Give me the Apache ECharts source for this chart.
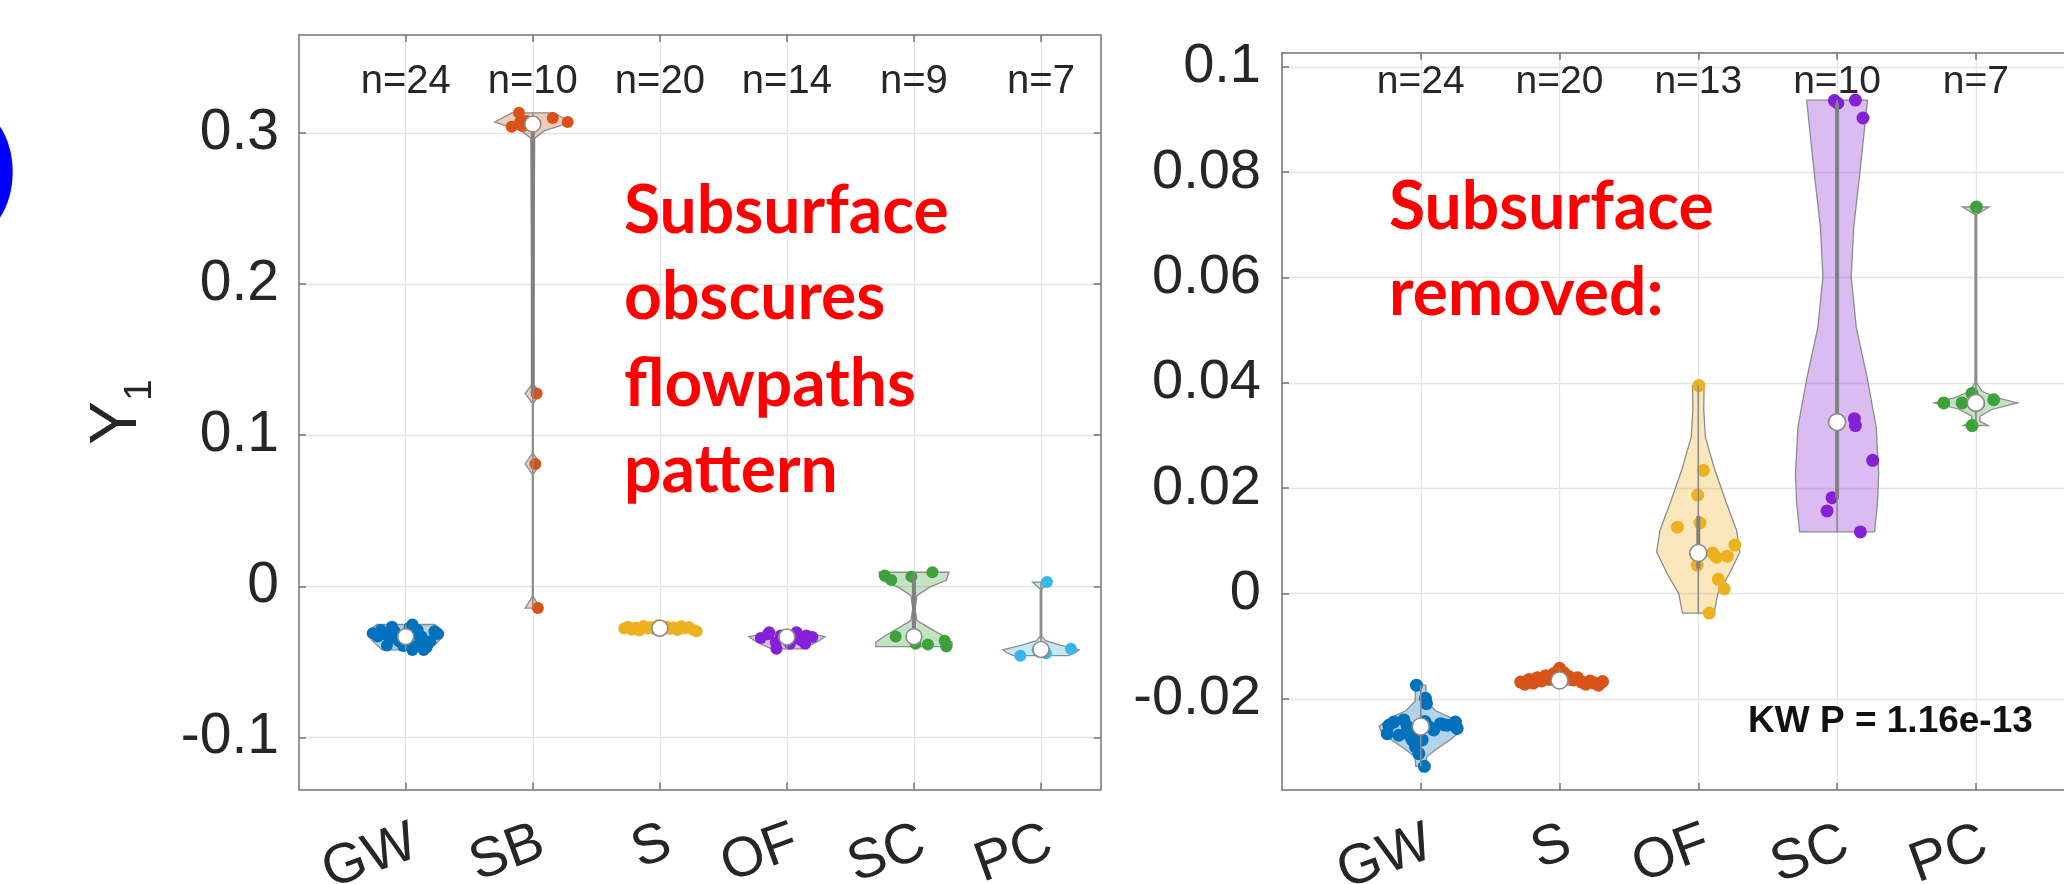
<!DOCTYPE html>
<html><head><meta charset="utf-8">
<script src="https://cdn.jsdelivr.net/npm/echarts@6/dist/echarts.min.js"></script>
<style>html,body{margin:0;padding:0;background:#fff}#c{width:2064px;height:884px}</style>
</head><body><div id="c"></div>
<script>
// ---------- DATA ----------
const leftCategories = ['GW','SB','S','OF','SC','PC'];
const leftCounts = [24,10,20,14,9,7];
const leftYTicks = [-0.1,0,0.1,0.2,0.3];
const rightCategories = ['GW','S','OF','SC','PC'];
const rightCounts = [24,20,13,10,7];
const rightYTicks = [-0.02,0,0.02,0.04,0.06,0.08,0.1];

// scatter points: [horizontal jitter (category units), value]
const leftGW = [[-0.196,-0.0289],[-0.108,-0.0267],[-0.22,-0.0333],[-0.148,-0.0392],[-0.055,-0.0364],[0.053,-0.0253],[0.085,-0.0315],[0.125,-0.0333],[0.165,-0.0404],[0.226,-0.0298],[0.254,-0.0315],[0.053,-0.0421],[0.142,-0.0421],[-0.087,-0.0298],[0.021,-0.0364],[-0.168,-0.0315],[-0.035,-0.0333],[0.194,-0.0364],[0.094,-0.0289],[-0.128,-0.0348],[-0.26,-0.031],[0.11,-0.0378],[-0.02,-0.0395],[0.03,-0.0275]];
const leftSB = [[-0.109,0.3134],[-0.10,0.3073],[-0.166,0.3041],[-0.08,0.3046],[0.157,0.3099],[0.275,0.3073],[-0.05,0.308],[0.03,0.1276],[0.02,0.081],[0.04,-0.0144]];
const leftS = [[-0.28,-0.0280],[-0.25,-0.0268],[-0.22,-0.0288],[-0.19,-0.0275],[-0.16,-0.0292],[-0.13,-0.0262],[-0.10,-0.0279],[-0.07,-0.0270],[-0.04,-0.0285],[-0.01,-0.0256],[0.02,-0.0277],[0.05,-0.0266],[0.08,-0.0283],[0.11,-0.0273],[0.14,-0.0290],[0.17,-0.0264],[0.20,-0.0278],[0.23,-0.0271],[0.26,-0.0287],[0.29,-0.0298]];
const leftOF = [[-0.139,-0.0304],[-0.205,-0.0342],[-0.047,-0.0326],[0.076,-0.0304],[0.154,-0.0326],[0.11,-0.0355],[-0.087,-0.0371],[-0.082,-0.0414],[0.024,-0.0381],[0.144,-0.0381],[0.09,-0.0336],[-0.15,-0.0318],[0.2,-0.0335],[-0.02,-0.0330]];
const leftSC = [[-0.23,0.0071],[-0.178,0.0042],[-0.02,0.0064],[0.145,0.0093],[-0.144,-0.0333],[0.013,-0.0381],[0.11,-0.0386],[0.242,-0.036],[0.255,-0.0399]];
const leftPC = [[0.047,0.0028],[-0.163,-0.0459],[-0.027,-0.0421],[0.039,-0.0443],[0.236,-0.0414],[0.0,-0.0412],[0.02,-0.0418]];

const rightGW = [[-0.031,-0.0174],[0.034,-0.0199],[0.041,-0.0209],[0.026,-0.0328],[-0.23,-0.025],[-0.194,-0.0244],[-0.122,-0.024],[-0.098,-0.0252],[-0.062,-0.0278],[-0.038,-0.0291],[-0.014,-0.0304],[0.01,-0.0278],[0.094,-0.0259],[0.142,-0.0247],[0.19,-0.025],[0.25,-0.0244],[0.262,-0.0256],[-0.242,-0.0266],[-0.158,-0.0269],[-0.074,-0.0272],[0.058,-0.0253],[0.166,-0.0249],[0.03,-0.0243],[-0.05,-0.0262]];
const rightS = [[-0.28,-0.0168],[-0.25,-0.0172],[-0.22,-0.0163],[-0.19,-0.0170],[-0.16,-0.0160],[-0.13,-0.0166],[-0.10,-0.0156],[-0.07,-0.0162],[-0.04,-0.0152],[0.0,-0.0142],[0.03,-0.0150],[0.07,-0.0158],[0.10,-0.0164],[0.13,-0.0160],[0.16,-0.0168],[0.19,-0.0172],[0.22,-0.0166],[0.25,-0.0170],[0.28,-0.0174],[0.31,-0.0167]];
const rightOF = [[0.005,0.0395],[0.036,0.0234],[-0.004,0.0187],[0.012,0.0134],[-0.151,0.0126],[-0.007,0.0054],[0.104,0.0077],[0.132,0.0069],[0.209,0.0071],[0.264,0.0092],[0.144,0.0027],[0.187,0.0009],[0.079,-0.0037]];
const rightSC = [[-0.019,0.0936],[0.005,0.0931],[0.132,0.0937],[0.187,0.0903],[0.125,0.0332],[0.132,0.0319],[0.257,0.0253],[-0.036,0.0182],[-0.072,0.0157],[0.168,0.0117]];
const rightPC = [[0.004,0.0734],[-0.231,0.0362],[-0.099,0.0362],[-0.027,0.038],[0.129,0.0368],[-0.027,0.0319],[0.02,0.036]];

// violin outlines: [value, relative half-width]
const leftGWShape = [[-0.0421,0.62],[-0.039,0.75],[-0.036,0.88],[-0.033,0.97],[-0.0307,1.0],[-0.028,0.9],[-0.0253,0.76]];
const leftSBShape = [[-0.0144,0.2],[-0.0105,0.1],[-0.0067,0.01],[0.074,0.01],[0.081,0.2],[0.088,0.01],[0.121,0.01],[0.1276,0.2],[0.134,0.01],[0.2966,0.05],[0.3014,0.3],[0.3073,1.0],[0.3134,0.55]];
const leftSShape = [[-0.0298,0.15],[-0.029,0.5],[-0.0282,0.9],[-0.0277,1.0],[-0.027,0.8],[-0.0262,0.35],[-0.0256,0.15]];
const leftOFShape = [[-0.0414,0.4],[-0.039,0.62],[-0.036,0.85],[-0.0333,1.0],[-0.0318,0.7],[-0.0304,0.35]];
const leftSCShape = [[-0.0399,1.0],[-0.037,1.0],[-0.0326,0.75],[-0.0275,0.4],[-0.0227,0.08],[-0.015,0.03],[-0.0062,0.08],[-0.0007,0.4],[0.004,0.85],[0.0093,0.92]];
const leftPCShape = [[-0.0459,0.72],[-0.044,0.9],[-0.042,1.0],[-0.039,0.5],[-0.036,0.12],[-0.033,0.02],[-0.0018,0.02],[0.0028,0.22]];

const rightGWShape = [[-0.0328,0.12],[-0.031,0.14],[-0.0297,0.35],[-0.0278,0.7],[-0.0262,0.95],[-0.0252,1.0],[-0.0237,0.75],[-0.0222,0.35],[-0.0205,0.14],[-0.0174,0.12]];
const rightSShape = [[-0.0174,0.65],[-0.017,0.85],[-0.0166,1.0],[-0.016,0.6],[-0.0152,0.25],[-0.0142,0.08]];
const rightOFShape = [[-0.0037,0.38],[0.0,0.47],[0.0038,0.75],[0.0079,1.0],[0.012,0.92],[0.0171,0.68],[0.0234,0.4],[0.0297,0.17],[0.035,0.13],[0.0395,0.14]];
const rightSCShape = [[0.0117,0.9],[0.0171,0.97],[0.0228,1.0],[0.0316,0.94],[0.0411,0.72],[0.0506,0.46],[0.0601,0.34],[0.0696,0.4],[0.08,0.55],[0.0937,0.73]];
const rightPCShape = [[0.0319,0.3],[0.0327,0.1],[0.0337,0.1],[0.035,0.4],[0.0362,1.0],[0.0372,0.5],[0.0384,0.15],[0.040,0.02],[0.072,0.02],[0.0734,0.32]];

// ---------- STYLE ----------
const C_BLUE='#0072BD', C_ORANGE='#D95319', C_YELLOW='#EDB120', C_PURPLE='#8420d6', C_GREEN='#3ca23c', C_CYAN='#38b6ea';
const FONT='Liberation Sans';
const TXT='#262626';
const AXC='#737373';
const GRC='#e4e4e4';
const HALF=0.3;

const leftGroups = [
  {pts:leftGW, shape:leftGWShape, color:C_BLUE},
  {pts:leftSB, shape:leftSBShape, color:C_ORANGE},
  {pts:leftS, shape:leftSShape, color:C_YELLOW},
  {pts:leftOF, shape:leftOFShape, color:C_PURPLE},
  {pts:leftSC, shape:leftSCShape, color:C_GREEN},
  {pts:leftPC, shape:leftPCShape, color:C_CYAN}
];
const rightGroups = [
  {pts:rightGW, shape:rightGWShape, color:C_BLUE},
  {pts:rightS, shape:rightSShape, color:C_ORANGE},
  {pts:rightOF, shape:rightOFShape, color:C_YELLOW},
  {pts:rightSC, shape:rightSCShape, color:C_PURPLE},
  {pts:rightPC, shape:rightPCShape, color:C_GREEN}
];

function quantile(arr, p){
  const s = arr.slice().sort((a,b)=>a-b), n = s.length;
  const pos = n*p + 0.5;
  if (pos <= 1) return s[0];
  if (pos >= n) return s[n-1];
  const lo = Math.floor(pos), f = pos - lo;
  return s[lo-1] + f*(s[lo]-s[lo-1]);
}
function rgba(hex, a){
  const h = hex.replace('#','');
  const r = parseInt(h.substr(0,2),16), g = parseInt(h.substr(2,2),16), b = parseInt(h.substr(4,2),16);
  return `rgba(${r},${g},${b},${a})`;
}
function fmt(v){ if (Math.abs(v) < 1e-9) return '0'; return String(Number(v.toFixed(3))); }

function panelSeries(groups, counts, xi, yi, labelY, nFont, dot, medR){
  const series = [];
  const data = groups.map((g,i)=>[i+1, quantile(g.pts.map(p=>p[1]),0.5), i]);
  series.push({
    type:'custom', xAxisIndex:xi, yAxisIndex:yi, z:2, silent:true, data, encode:{x:0,y:1},
    renderItem(params, api){
      const i = api.value(2), g = groups[i], c = i+1;
      const r = g.shape.map(([v,w])=>api.coord([c + w*HALF, v]));
      const l = g.shape.slice().reverse().map(([v,w])=>api.coord([c - w*HALF, v]));
      return {type:'polygon', shape:{points:r.concat(l)}, style:{fill:rgba(g.color,0.3), stroke:'#8c8c8c', lineWidth:1.3}};
    }
  });
  groups.forEach((g,i)=>{
    series.push({type:'scatter', xAxisIndex:xi, yAxisIndex:yi, z:3, silent:true, symbolSize:dot,
      itemStyle:{color:g.color, opacity:1}, data:g.pts.map(([j,v])=>[i+1+j, v])});
  });
  series.push({
    type:'custom', xAxisIndex:xi, yAxisIndex:yi, z:4, silent:true, data, encode:{x:0,y:1},
    renderItem(params, api){
      const i = api.value(2), g = groups[i], c = i+1;
      const vals = g.pts.map(p=>p[1]);
      const mn = Math.min(...vals), mx = Math.max(...vals);
      const q1 = quantile(vals,0.25), q3 = quantile(vals,0.75), md = quantile(vals,0.5);
      const a = api.coord([c,mn]), b = api.coord([c,mx]), p = api.coord([c,q1]), q = api.coord([c,q3]);
      const m = api.coord([c,md]), t = api.coord([c,labelY]);
      return {type:'group', children:[
        {type:'line', shape:{x1:a[0],y1:a[1],x2:b[0],y2:b[1]}, style:{stroke:'#8c8c8c', lineWidth:1.6}},
        {type:'line', shape:{x1:p[0],y1:p[1],x2:q[0],y2:q[1]}, style:{stroke:'#808080', lineWidth:4}},
        {type:'circle', shape:{cx:m[0], cy:m[1], r:medR}, style:{fill:'#ffffff', stroke:'#8c8c8c', lineWidth:1.6}},
        {type:'text', x:t[0], y:t[1], style:{text:'n='+counts[i], fill:TXT, font:`${nFont}px "${FONT}"`, align:'center', verticalAlign:'middle'}}
      ]};
    }
  });
  return series;
}

function xBottom(grid, min, max, cats, margin){
  const vals = cats.map((_,i)=>i+1);
  return {type:'value', gridIndex:grid, min, max, position:'bottom',
    axisLine:{show:true, onZero:false, lineStyle:{color:AXC, width:1.5}},
    axisTick:{show:true, inside:true, length:7, customValues:vals, lineStyle:{color:AXC, width:1.5}},
    axisLabel:{show:true, customValues:vals, formatter:v=>cats[Math.round(v)-1]||'', rotate:20, align:'right', verticalAlign:'top',
      margin, fontSize:56, fontFamily:FONT, color:TXT},
    splitLine:{show:true, lineStyle:{color:GRC, width:1.3}}};
}
function xTop(grid, min, max, cats){
  const vals = cats.map((_,i)=>i+1);
  return {type:'value', gridIndex:grid, min, max, position:'top',
    axisLine:{show:true, onZero:false, lineStyle:{color:AXC, width:1.5}},
    axisTick:{show:true, inside:true, length:7, customValues:vals, lineStyle:{color:AXC, width:1.5}},
    axisLabel:{show:false}, splitLine:{show:false}};
}
function yLeft(grid, min, max, ticks, extra){
  return Object.assign({type:'value', gridIndex:grid, min, max, position:'left',
    axisLine:{show:true, onZero:false, lineStyle:{color:AXC, width:1.5}},
    axisTick:{show:true, inside:true, length:7, customValues:ticks, lineStyle:{color:AXC, width:1.5}},
    axisLabel:{show:true, customValues:ticks, formatter:fmt, margin:20, fontSize:57, fontFamily:FONT, color:TXT},
    splitLine:{show:true, lineStyle:{color:GRC, width:1.3}}}, extra||{});
}
function yRight(grid, min, max, ticks){
  return {type:'value', gridIndex:grid, min, max, position:'right',
    axisLine:{show:true, onZero:false, lineStyle:{color:AXC, width:1.5}},
    axisTick:{show:true, inside:true, length:7, customValues:ticks, lineStyle:{color:AXC, width:1.5}},
    axisLabel:{show:false}, splitLine:{show:false}};
}

const chart = echarts.init(document.getElementById('c'), null, {renderer:'canvas'});
const option = {
  animation:false,
  backgroundColor:'#ffffff',
  grid:[
    {left:299, top:35, width:801.7, height:754.5, outerBoundsMode:'none', containLabel:false},
    {left:1282, top:52.7, width:832.6, height:737.3, outerBoundsMode:'none', containLabel:false}
  ],
  xAxis:[
    xBottom(0, 0.16, 6.47, leftCategories, 25),
    xTop(0, 0.16, 6.47, leftCategories),
    xBottom(1, 0, 6, rightCategories, 25),
    xTop(1, 0, 6, rightCategories)
  ],
  yAxis:[
    yLeft(0, -0.1345, 0.3649, leftYTicks, {
      name:'{y|Y}{s|1}', nameLocation:'middle', nameRotate:90, nameGap:139,
      nameTextStyle:{fontFamily:FONT, color:TXT, rich:{
        y:{fontSize:66, fontFamily:FONT, color:TXT, padding:[0,0,9,0], verticalAlign:'bottom'},
        s:{fontSize:39, fontFamily:FONT, color:TXT, verticalAlign:'bottom'}}}
    }),
    yRight(0, -0.1345, 0.3649, leftYTicks),
    yLeft(1, -0.0373, 0.1027, rightYTicks, {axisLabel:{show:true, customValues:rightYTicks, formatter:fmt, margin:21, fontSize:56, fontFamily:FONT, color:TXT}})
  ],
  series:[].concat(
    panelSeries(leftGroups, leftCounts, 0, 0, 0.334, 40, 12, 8),
    panelSeries(rightGroups, rightCounts, 2, 2, 0.0970, 39, 13, 8.5)
  ),
  graphic:[
    {type:'ellipse', z:100, shape:{cx:-30, cy:172, rx:42.7, ry:64}, style:{fill:'#0000ff'}},
    {type:'text', z:100, left:624, top:168, style:{text:'Subsurface\nobscures\nflowpaths\npattern', font:'bold 66px Lato', fill:'#ff0000', lineHeight:86.5}},
    {type:'text', z:100, left:1389, top:164, style:{text:'Subsurface\nremoved:', font:'bold 66px Lato', fill:'#ff0000', lineHeight:86.7}},
    {type:'text', z:100, x:1748, y:722, style:{text:'KW P = 1.16e-13', font:`bold 37px "${FONT}"`, fill:'#111111', align:'left', verticalAlign:'middle'}}
  ]
};
chart.setOption(option);
</script>
</body></html>
